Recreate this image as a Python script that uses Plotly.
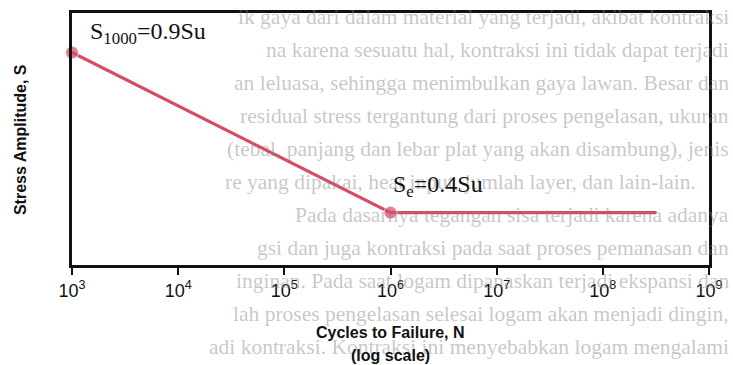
import plotly.graph_objects as go

# S-N curve points (stress in units of ultimate strength Su)
cycles = [1e3, 1e6, 3.2e8]
stress = [0.9, 0.4, 0.4]
marker_sizes = [13, 13, 0]

tick_vals = [1e3, 1e4, 1e5, 1e6, 1e7, 1e8, 1e9]
tick_text = ["10<sup>3</sup>", "10<sup>4</sup>", "10<sup>5</sup>", "10<sup>6</sup>",
             "10<sup>7</sup>", "10<sup>8</sup>", "10<sup>9</sup>"]

# faint page text printed behind the figure: (centre y px, anchor, x px, text)
page_lines = [
    (14, "right", 738, "ik gaya dari dalam material yang terjadi, akibat kontraksi"),
    (47, "right", 738, "na karena sesuatu hal, kontraksi ini tidak dapat terjadi"),
    (81, "right", 738, "an leluasa, sehingga menimbulkan gaya lawan. Besar dan"),
    (114, "right", 738, "residual stress tergantung dari proses pengelasan, ukuran"),
    (148, "right", 738, "(tebal, panjang dan lebar plat yang akan disambung), jenis"),
    (181, "left", 225, "re yang dipakai, heat input, jumlah layer, dan lain-lain."),
    (214, "right", 738, "Pada dasarnya tegangan sisa terjadi karena adanya"),
    (248, "right", 738, "gsi dan juga kontraksi pada saat proses pemanasan dan"),
    (281, "right", 738, "inginan. Pada saat logam dipanaskan terjadi ekspansi dan"),
    (315, "right", 738, "lah proses pengelasan selesai logam akan menjadi dingin,"),
    (348, "right", 738, "adi kontraksi. Kontraksi ini menyebabkan logam mengalami"),
]

W, H = 733, 365
L, R, T, B = 72, 17, 10, 100
PW, PH = W - L - R, H - T - B


def px_x(x):
    return (x - L) / PW


def px_y(y):
    return (H - B - y) / PH


line_color = "#d84a66"

fig = go.Figure()
fig.add_trace(go.Scatter(
    x=cycles, y=stress, mode="lines+markers",
    line=dict(color=line_color, width=3.2),
    marker=dict(color=line_color, size=marker_sizes),
    cliponaxis=False,
    showlegend=False, hoverinfo="skip",
))

annotations = []
for y, anchor, x, txt in page_lines:
    annotations.append(dict(
        xref="paper", yref="paper", x=px_x(x), y=px_y(y),
        xanchor=anchor, yanchor="middle", text=txt, showarrow=False,
        font=dict(family="Liberation Serif", size=21.5, color="rgba(130,130,130,0.45)"),
    ))

annotations += [
    dict(xref="paper", yref="paper", x=px_x(88), y=px_y(30), xanchor="left", yanchor="middle",
         text="S<sub>1000</sub>=0.9Su", showarrow=False,
         font=dict(family="Liberation Serif", size=24, color="#111")),
    dict(xref="paper", yref="paper", x=px_x(395), y=px_y(185), xanchor="left", yanchor="middle",
         text="S<sub>e</sub>=0.4Su", showarrow=False,
         font=dict(family="Liberation Serif", size=24, color="#111")),
    dict(xref="paper", yref="paper", x=px_x(394), y=px_y(333), xanchor="center", yanchor="middle",
         text="<b>Cycles to Failure, N</b>", showarrow=False,
         font=dict(family="Liberation Sans", size=16, color="#111")),
    dict(xref="paper", yref="paper", x=px_x(394), y=px_y(357), xanchor="center", yanchor="middle",
         text="<b>(log scale)</b>", showarrow=False,
         font=dict(family="Liberation Sans", size=16, color="#111")),
    dict(xref="paper", yref="paper", x=px_x(20), y=px_y(138), xanchor="center", yanchor="middle",
         text="<b>Stress Amplitude, S</b>", showarrow=False, textangle=-90,
         font=dict(family="Liberation Sans", size=16, color="#111")),
]

fig.update_layout(
    width=W, height=H,
    margin=dict(l=L, r=R, t=T, b=B),
    paper_bgcolor="white", plot_bgcolor="rgba(0,0,0,0)",
    annotations=annotations,
    xaxis=dict(
        type="log", range=[2.99999, 9], tickvals=tick_vals, ticktext=tick_text,
        showgrid=False, zeroline=False,
        showline=True, linecolor="#111", linewidth=3, mirror=True,
        ticks="outside", ticklen=7, tickwidth=2, tickcolor="#111",
        tickfont=dict(family="Liberation Sans", size=18, color="#111"),
    ),
    yaxis=dict(
        range=[0.2364, 1.0235], showticklabels=False, showgrid=False, zeroline=False,
        showline=True, linecolor="#111", linewidth=3, mirror=True, ticks="",
    ),
)

fig.write_html("out.html")
